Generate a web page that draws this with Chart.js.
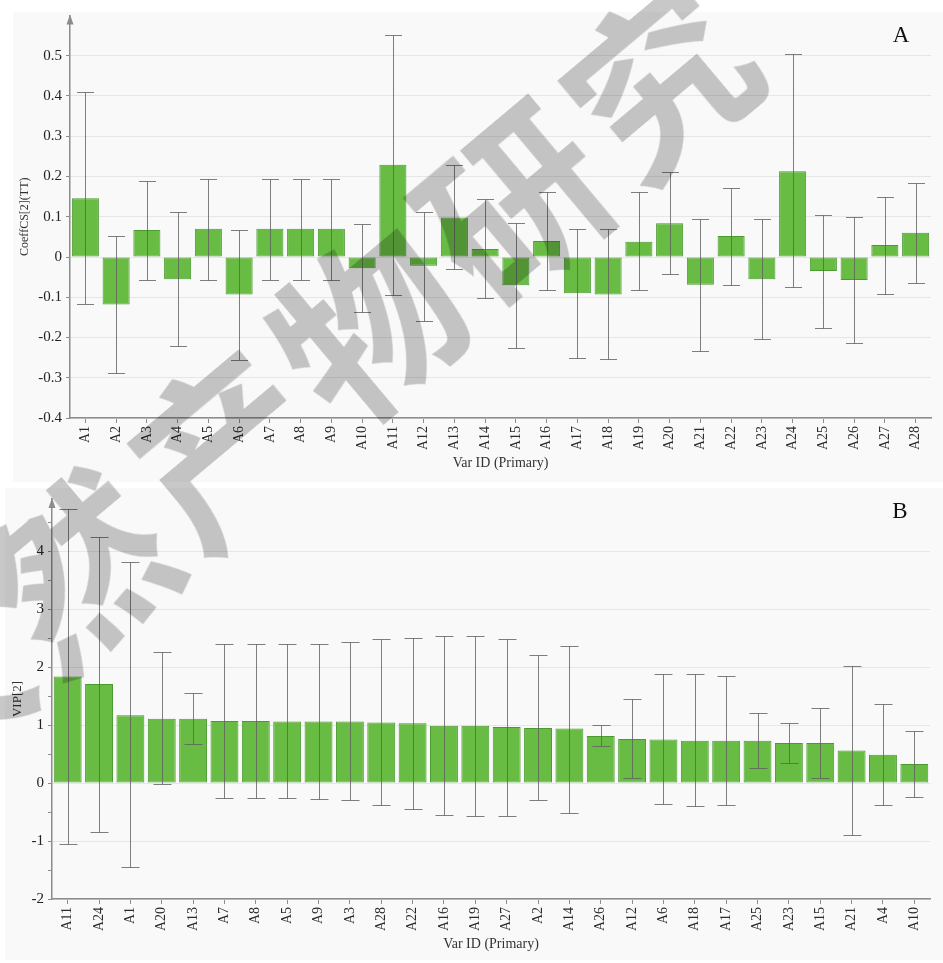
<!DOCTYPE html>
<html>
<head>
<meta charset="utf-8">
<script src="https://cdn.jsdelivr.net/npm/chart.js@4.4.1/dist/chart.umd.min.js"></script>
<style>
  html, body { margin: 0; padding: 0; background: #fff; }
  #wrap { position: relative; width: 943px; height: 963px; overflow: hidden; background: #fff; }
  .box { position: absolute; left: 0; width: 943px; }
  #boxA { top: 0; height: 483px; }
  #boxB { top: 483px; height: 480px; }
  #mark {
    position: absolute; left: 294px; top: 376px; width: 0; height: 0;
    pointer-events: none; mix-blend-mode: multiply;
  }
  #mark span {
    position: absolute; left: 0; top: 0; white-space: nowrap;
    transform: translate(-50%, -50%) rotate(-40deg);
    font-family: "Noto Sans CJK SC"; font-weight: bold; font-size: 180px;
    letter-spacing: 10px;
    color: rgb(200, 200, 200); line-height: 1;
  }
</style>
</head>
<body>
<div id="wrap">
  <div class="box" id="boxA"><canvas id="chartA"></canvas></div>
  <div class="box" id="boxB"><canvas id="chartB"></canvas></div>
  <div id="mark"><span>天然产物研究</span></div>
</div>
<script>
// panel A: coefficients
const varsA = ['A1', 'A2', 'A3', 'A4', 'A5', 'A6', 'A7', 'A8', 'A9', 'A10', 'A11', 'A12', 'A13', 'A14',
  'A15', 'A16', 'A17', 'A18', 'A19', 'A20', 'A21', 'A22', 'A23', 'A24', 'A25', 'A26', 'A27', 'A28']
const coef = [0.146, -0.118, 0.067, -0.055, 0.070, -0.093, 0.070, 0.070, 0.070, -0.028, 0.229, -0.022, 0.098, 0.020,
  -0.070, 0.040, -0.090, -0.093, 0.038, 0.084, -0.069, 0.052, -0.055, 0.213, -0.035, -0.057, 0.030, 0.060]
const coefHigh = [0.410, 0.052, 0.190, 0.112, 0.195, 0.068, 0.195, 0.195, 0.195, 0.082, 0.552, 0.113, 0.229, 0.145,
  0.084, 0.161, 0.069, 0.069, 0.161, 0.210, 0.095, 0.172, 0.094, 0.504, 0.105, 0.099, 0.150, 0.183]
const coefLow = [-0.117, -0.288, -0.058, -0.221, -0.056, -0.255, -0.056, -0.056, -0.056, -0.136, -0.095, -0.159, -0.031, -0.101,
  -0.225, -0.082, -0.251, -0.253, -0.082, -0.041, -0.233, -0.070, -0.204, -0.074, -0.176, -0.213, -0.092, -0.064]

// panel B: VIP, sorted
const varsB = ['A11', 'A24', 'A1', 'A20', 'A13', 'A7', 'A8', 'A5', 'A9', 'A3', 'A28', 'A22', 'A16', 'A19',
  'A27', 'A2', 'A14', 'A26', 'A12', 'A6', 'A18', 'A17', 'A25', 'A23', 'A15', 'A21', 'A4', 'A10']
const vip = [1.84, 1.71, 1.17, 1.11, 1.11, 1.07, 1.07, 1.06, 1.06, 1.06, 1.045, 1.03, 0.99, 0.99,
  0.965, 0.95, 0.94, 0.81, 0.76, 0.75, 0.73, 0.73, 0.73, 0.69, 0.69, 0.56, 0.49, 0.33]
const vipHigh = [4.72, 4.24, 3.81, 2.26, 1.56, 2.40, 2.40, 2.40, 2.40, 2.43, 2.48, 2.51, 2.54, 2.54,
  2.49, 2.21, 2.37, 1.00, 1.45, 1.88, 1.88, 1.85, 1.21, 1.03, 1.29, 2.02, 1.36, 0.90]
const vipLow = [-1.05, -0.84, -1.44, -0.02, 0.68, -0.25, -0.25, -0.25, -0.27, -0.29, -0.38, -0.45, -0.55, -0.56,
  -0.575, -0.29, -0.51, 0.64, 0.09, -0.36, -0.40, -0.37, 0.26, 0.35, 0.08, -0.90, -0.38, -0.24]

Chart.defaults.font.family = 'Liberation Serif'
Chart.defaults.color = '#222'

const axisColor = '#8c8c8c'

function panelBg (x, y, w, h) {
  return {
    id: 'panelBg',
    beforeDraw: (chart) => {
      const c = chart.ctx
      c.save()
      c.fillStyle = '#f9f9f9'
      c.fillRect(x, y, w, h)
      c.restore()
    }
  }
}

function errorBars (high, low, cap) {
  return {
    id: 'errorBars',
    afterDatasetsDraw: (chart) => {
      const c = chart.ctx
      const meta = chart.getDatasetMeta(0)
      const yScale = chart.scales.y
      c.save()
      c.strokeStyle = 'rgba(95, 95, 95, 0.8)'
      c.lineWidth = 1
      meta.data.forEach((bar, i) => {
        const x = Math.round(bar.x) + 0.5
        const yh = Math.round(yScale.getPixelForValue(high[i])) + 0.5
        const yl = Math.round(yScale.getPixelForValue(low[i])) + 0.5
        c.beginPath()
        c.moveTo(x, yh); c.lineTo(x, yl)
        c.moveTo(x - cap, yh); c.lineTo(x + cap, yh)
        c.moveTo(x - cap, yl); c.lineTo(x + cap, yl)
        c.stroke()
      })
      c.restore()
    }
  }
}

function decor (letter, lx, ly) {
  return {
    id: 'decor',
    afterDraw: (chart) => {
      const c = chart.ctx
      const a = chart.chartArea
      c.save()
      // arrow on the y axis
      c.fillStyle = axisColor
      c.beginPath()
      c.moveTo(a.left, a.top - 1)
      c.lineTo(a.left - 3.5, a.top + 9)
      c.lineTo(a.left + 3.5, a.top + 9)
      c.closePath()
      c.fill()
      // panel letter
      c.fillStyle = '#111'
      c.font = '23px "Liberation Serif"'
      c.textAlign = 'center'
      c.textBaseline = 'middle'
      c.fillText(letter, lx, ly)
      c.restore()
    }
  }
}

function makeChart (id, cfg) {
  const isMajor = (v) => Math.abs(Math.round(v / cfg.major * 1000)) % 1000 === 0 && v < cfg.labelMax
  return new Chart(document.getElementById(id), {
    type: 'bar',
    data: {
      labels: cfg.labels,
      datasets: [{
        data: cfg.values,
        backgroundColor: '#68bc44',
        borderColor: '#4a9a31',
        borderWidth: 1,
        borderSkipped: false,
        barPercentage: cfg.barPct,
        categoryPercentage: 1
      }]
    },
    options: {
      responsive: true,
      maintainAspectRatio: false,
      animation: false,
      layout: { padding: cfg.padding },
      plugins: {
        legend: { display: false },
        tooltip: { enabled: false }
      },
      scales: {
        x: {
          afterFit: (s) => { s.height = cfg.xHeight },
          border: { color: axisColor, width: 1.5 },
          grid: { drawOnChartArea: false, offset: false, tickLength: 5, tickColor: axisColor },
          ticks: { minRotation: 90, maxRotation: 90, autoSkip: false, padding: 3, font: { size: 14 }, color: '#2a2a2a' },
          title: { display: true, text: 'Var ID (Primary)', font: { size: 14 }, color: '#333', padding: { top: 0, bottom: cfg.xTitlePad } }
        },
        y: {
          min: cfg.min,
          max: cfg.max,
          afterFit: (s) => { s.width = cfg.yWidth },
          border: { color: axisColor, width: 1.5 },
          grid: {
            color: (ctx) => isMajor(ctx.tick.value) ? '#e6e6e6' : 'rgba(0,0,0,0)',
            tickColor: (ctx) => ctx.tick.value < cfg.labelMax ? axisColor : 'rgba(0,0,0,0)',
            tickLength: 4
          },
          ticks: {
            stepSize: cfg.major / 2,
            padding: 4,
            font: { size: 15 },
            color: '#222',
            callback: (v) => isMajor(v) ? String(Math.round(v * 10) / 10) : ''
          },
          title: { display: true, text: cfg.yTitle, font: { size: cfg.yTitleSize }, color: '#333', padding: { top: cfg.yTitlePad, bottom: 0 } }
        }
      }
    },
    plugins: [
      panelBg(cfg.bg[0], cfg.bg[1], cfg.bg[2], cfg.bg[3]),
      errorBars(cfg.high, cfg.low, cfg.cap),
      decor(cfg.letter, cfg.letterPos[0], cfg.letterPos[1])
    ]
  })
}

makeChart('chartA', {
  labels: varsA, values: coef, high: coefHigh, low: coefLow,
  min: -0.4, max: 0.6, major: 0.1, labelMax: 0.59,
  padding: { left: 13, top: 15.5, right: 12, bottom: 0 },
  xHeight: 65, yWidth: 57, xTitlePad: 11.6,
  yTitle: 'CoeffCS[2](TT)', yTitleSize: 12, yTitlePad: 4.8,
  barPct: 0.88, cap: 8.5,
  bg: [13, 12, 930, 470],
  letter: 'A', letterPos: [901, 36]
})

makeChart('chartB', {
  labels: varsB, values: vip, high: vipHigh, low: vipLow,
  min: -2, max: 4.9, major: 1, labelMax: 4.6,
  padding: { left: 5, top: 16, right: 13, bottom: 0 },
  xHeight: 64, yWidth: 47, xTitlePad: 10.6,
  yTitle: 'VIP[2]', yTitleSize: 13, yTitlePad: 5.2,
  barPct: 0.89, cap: 9,
  bg: [5, 5, 938, 472],
  letter: 'B', letterPos: [900, 29]
})
</script>
</body>
</html>
